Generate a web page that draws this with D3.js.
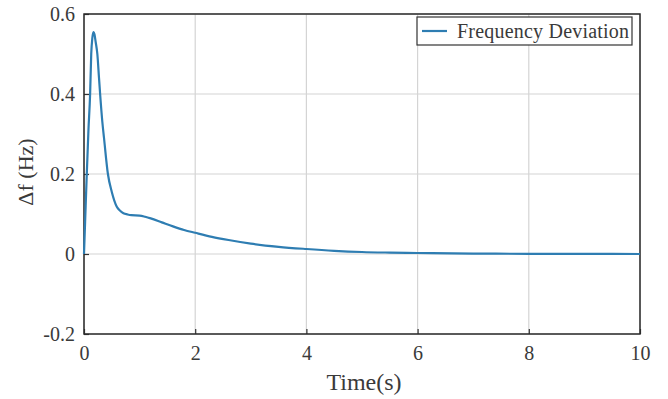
<!DOCTYPE html>
<html>
<head>
<meta charset="utf-8">
<script src="https://cdn.jsdelivr.net/npm/d3@7"></script>
<style>
  body { margin: 0; background: #fff; }
  text { font-family: "Liberation Serif", "Times New Roman", serif; fill: #3a3a3a; }
</style>
</head>
<body>
<div id="chart"></div>
<script>
// values
var time = [0, 0.02, 0.05, 0.08, 0.11, 0.13, 0.15, 0.17, 0.19, 0.21, 0.24, 0.27, 0.29, 0.33, 0.36, 0.43, 0.5, 0.59, 0.65, 0.71, 0.78, 0.85, 1.0, 1.1, 1.2, 1.4, 1.6, 1.8, 2.0, 2.3, 2.6, 3.0, 3.5, 4.0, 4.5, 5.0, 5.5, 6.0, 7.0, 8.0, 9.0, 10.0];
var freqDev = [0, 0.08, 0.2, 0.31, 0.4, 0.5, 0.54, 0.555, 0.548, 0.53, 0.5, 0.44, 0.4, 0.33, 0.29, 0.2, 0.155, 0.118, 0.108, 0.102, 0.099, 0.097, 0.096, 0.093, 0.089, 0.079, 0.069, 0.06, 0.053, 0.043, 0.035, 0.026, 0.018, 0.0125, 0.008, 0.005, 0.0035, 0.0025, 0.001, 0.0005, 0.0002, 0];
var xTicks = [0, 2, 4, 6, 8, 10];
var yTicks = [-0.2, 0, 0.2, 0.4, 0.6];
var yTickLabels = ["-0.2", "0", "0.2", "0.4", "0.6"];
var seriesName = "Frequency Deviation";

var serif = "Liberation Serif, Times New Roman, serif";
var width = 668, height = 399;
var margin = { left: 84, right: 28, top: 14, bottom: 65 };
var w = width - margin.left - margin.right,
    h = height - margin.top - margin.bottom;

var svg = d3.select("#chart").append("svg")
    .attr("width", width)
    .attr("height", height);

var g = svg.append("g")
    .attr("transform", "translate(" + margin.left + "," + margin.top + ")");

var x = d3.scaleLinear().domain([0, 10]).range([0, w]);
var y = d3.scaleLinear().domain([-0.2, 0.6]).range([h, 0]);

// grid
g.selectAll(".gx").data(xTicks).enter().append("line")
    .attr("x1", function (d) { return x(d); }).attr("x2", function (d) { return x(d); })
    .attr("y1", 0).attr("y2", h)
    .attr("stroke", "#d4d4d4").attr("stroke-width", 1.2);
g.selectAll(".gy").data(yTicks).enter().append("line")
    .attr("x1", 0).attr("x2", w)
    .attr("y1", function (d) { return y(d); }).attr("y2", function (d) { return y(d); })
    .attr("stroke", "#d4d4d4").attr("stroke-width", 1.2);

// axes, ticks inward
var xAxis = g.append("g")
    .attr("transform", "translate(0," + h + ")")
    .call(d3.axisBottom(x).tickValues(xTicks).tickSizeInner(-5).tickSizeOuter(0).tickPadding(12));
var yAxis = g.append("g")
    .call(d3.axisLeft(y).tickValues(yTicks).tickSizeInner(-5).tickSizeOuter(0).tickPadding(9)
        .tickFormat(function (d, i) { return yTickLabels[i]; }));
[xAxis, yAxis].forEach(function (a) {
    a.attr("font-family", serif).attr("font-size", 20);
    a.select(".domain").remove();
    a.selectAll("line").attr("stroke", "#333").attr("stroke-width", 1.2);
    a.selectAll("text")
        .attr("font-family", serif)
        .style("font-family", serif)
        .style("font-size", "20px")
        .attr("fill", "#3a3a3a");
});

// frame
g.append("rect")
    .attr("width", w).attr("height", h)
    .attr("fill", "none").attr("stroke", "#2a2a2a").attr("stroke-width", 1.5);

// curve
var data = time.map(function (t, i) { return { t: t, v: freqDev[i] }; });
var line = d3.line()
    .x(function (d) { return x(d.t); })
    .y(function (d) { return y(d.v); })
    .curve(d3.curveMonotoneX);
g.append("path")
    .datum(data)
    .attr("d", line)
    .attr("fill", "none")
    .attr("stroke", "#2e7db2")
    .attr("stroke-width", 2.2);

// legend
var lg = svg.append("g");
lg.append("rect")
    .attr("x", 417).attr("y", 17).attr("width", 215).attr("height", 28)
    .attr("fill", "#fff").attr("stroke", "#333").attr("stroke-width", 1.2);
lg.append("line")
    .attr("x1", 422).attr("x2", 447).attr("y1", 31).attr("y2", 31)
    .attr("stroke", "#2e7db2").attr("stroke-width", 2.2);
lg.append("text")
    .attr("x", 457).attr("y", 38)
    .style("font-size", "20px")
    .attr("textLength", 172)
    .text(seriesName);

// axis labels
svg.append("text")
    .attr("x", margin.left + w / 2 + 2).attr("y", 390)
    .attr("text-anchor", "middle")
    .style("font-size", "24px")
    .text("Time(s)");
svg.append("text")
    .attr("transform", "translate(33,172) rotate(-90)")
    .attr("text-anchor", "middle")
    .style("font-size", "22px")
    .text("\u0394f (Hz)");
</script>
</body>
</html>
